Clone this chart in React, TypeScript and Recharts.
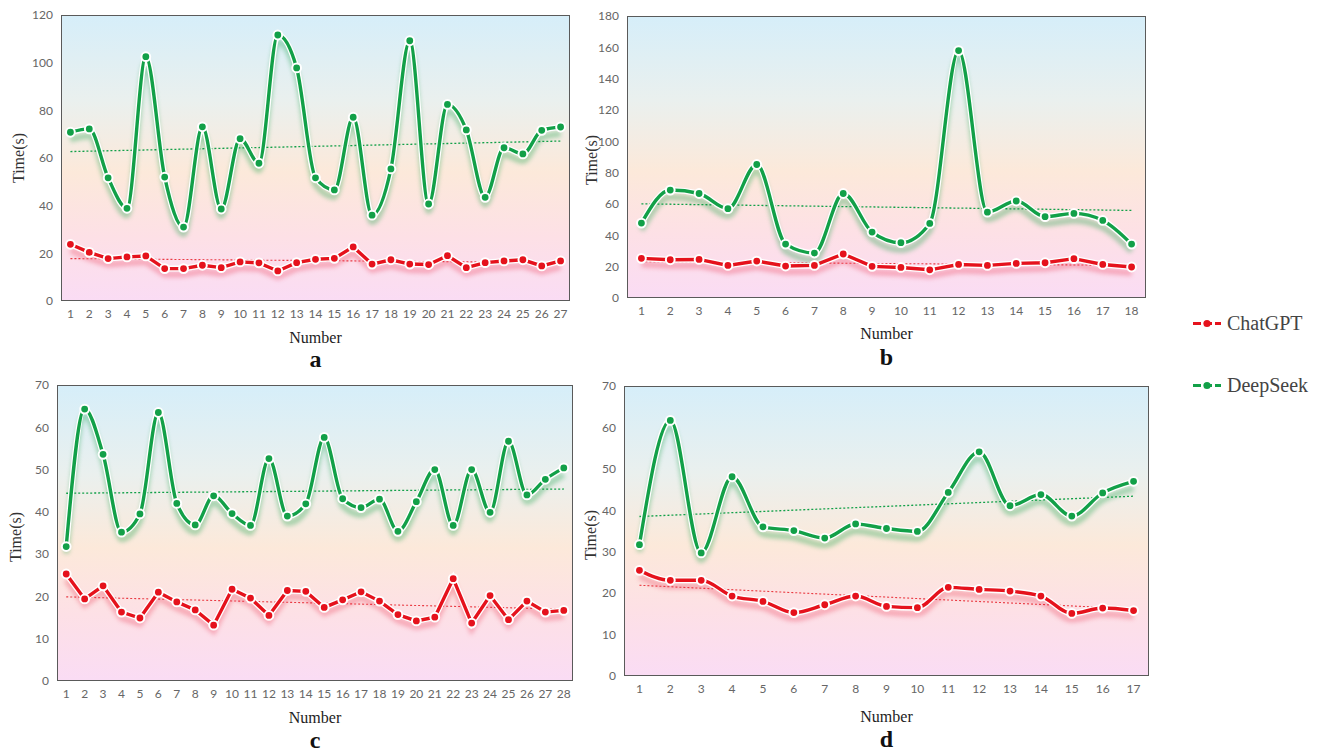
import React from 'react';
import { LineChart, Line, XAxis, YAxis } from 'recharts';

// ---------- Data ----------
const aNumbers = [1, 2, 3, 4, 5, 6, 7, 8, 9, 10, 11, 12, 13, 14, 15, 16, 17, 18, 19, 20, 21, 22, 23, 24, 25, 26, 27];
const aChatGPT = [23.8, 20.4, 17.8, 18.5, 18.9, 13.6, 13.6, 15, 14, 16.4, 16, 12.6, 16.1, 17.5, 17.9, 22.7, 15.5, 17.3, 15.5, 15.3, 19, 14, 16.1, 16.8, 17.3, 14.7, 16.8];
const aDeepSeek = [70.8, 72.2, 51.7, 38.9, 102.5, 52, 31, 73.1, 38.6, 68.1, 57.8, 111.6, 97.8, 51.7, 46.6, 77.1, 36, 55.4, 109.2, 40.7, 82.5, 71.8, 43.5, 64.3, 61.7, 71.6, 73];
const aChatTrend = [17.8, 16.1];
const aDeepTrend = [62.7, 67.1];
const aTicks = [0, 20, 40, 60, 80, 100, 120];

const bNumbers = [1, 2, 3, 4, 5, 6, 7, 8, 9, 10, 11, 12, 13, 14, 15, 16, 17, 18];
const bChatGPT = [25.3, 24.4, 24.6, 20.8, 23.6, 20.4, 20.8, 28.1, 20.2, 19.5, 18, 21.4, 20.8, 22.1, 22.5, 25.1, 21.4, 19.8];
const bDeepSeek = [47.8, 68.9, 66.7, 57, 85.2, 34.4, 28.7, 66.7, 42.1, 35.3, 47.6, 157.9, 54.8, 61.9, 51.9, 54, 49.5, 34.4];
const bChatTrend = [23.2, 20.8];
const bDeepTrend = [60.1, 55.9];
const bTicks = [0, 20, 40, 60, 80, 100, 120, 140, 160, 180];

const cNumbers = [1, 2, 3, 4, 5, 6, 7, 8, 9, 10, 11, 12, 13, 14, 15, 16, 17, 18, 19, 20, 21, 22, 23, 24, 25, 26, 27, 28];
const cChatGPT = [25.3, 19.4, 22.5, 16.3, 14.9, 21, 18.7, 16.8, 13.2, 21.7, 19.6, 15.5, 21.4, 21.2, 17.4, 19.2, 21.1, 18.9, 15.7, 14.2, 15.1, 24.2, 13.7, 20.2, 14.5, 18.9, 16.3, 16.7];
const cDeepSeek = [31.8, 64.3, 53.6, 35.2, 39.5, 63.5, 42, 36.9, 43.8, 39.6, 36.8, 52.6, 39, 41.9, 57.6, 43.1, 41, 43, 35.4, 42.4, 50, 36.8, 50, 39.9, 56.7, 44, 47.7, 50.4];
const cChatTrend = [19.9, 17.0];
const cDeepTrend = [44.4, 45.4];
const cTicks = [0, 10, 20, 30, 40, 50, 60, 70];

const dNumbers = [1, 2, 3, 4, 5, 6, 7, 8, 9, 10, 11, 12, 13, 14, 15, 16, 17];
const dChatGPT = [25.5, 23.1, 23.1, 19.3, 18, 15.3, 17.2, 19.3, 16.8, 16.5, 21.4, 20.9, 20.5, 19.3, 15.1, 16.4, 15.8];
const dDeepSeek = [31.7, 61.7, 29.7, 48.1, 36, 35.1, 33.3, 36.7, 35.6, 34.9, 44.3, 54.1, 41.1, 43.8, 38.6, 44.2, 47];
const dChatTrend = [21.9, 16.2];
const dDeepTrend = [38.5, 43.4];
const dTicks = [0, 10, 20, 30, 40, 50, 60, 70];

const seriesNames = ['ChatGPT', 'DeepSeek'];

// ---------- Styles ----------
const GREEN = '#12a048';
const RED = '#e5121c';
const SERIF = '"Liberation Serif", "Times New Roman", serif';
const TICKFONT = 'Lato, "DejaVu Sans", sans-serif';

type PanelProps = {
  L: number; T: number; R: number; B: number;
  numbers: number[]; chat: number[]; deep: number[];
  chatTrend: number[]; deepTrend: number[];
  ticks: number[]; letter: string; chatSmooth: boolean;
  timeY: number; timeX: number; numberY: number; letterY: number;
};

function Panel(p: PanelProps) {
  const n = p.numbers.length;
  const pad = (p.R - p.L) / (2 * n);
  const data = p.numbers.map((num, i) => ({
    num,
    chat: p.chat[i],
    deep: p.deep[i],
    chatT: i === 0 ? p.chatTrend[0] : i === n - 1 ? p.chatTrend[1] : null,
    deepT: i === 0 ? p.deepTrend[0] : i === n - 1 ? p.deepTrend[1] : null,
  }));
  const ML = 45, MT = 8, MR = 6, XH = 30;
  const width = p.R - p.L + ML + MR;
  const height = p.B - p.T + MT + XH;
  const yMax = p.ticks[p.ticks.length - 1];
  const cx = (p.L + p.R) / 2;
  const chatType = p.chatSmooth ? 'monotone' : 'linear';
  const centered: React.CSSProperties = { position: 'absolute', transform: 'translate(-50%, -50%)', whiteSpace: 'nowrap' };
  return (
    <>
      <div
        style={{
          position: 'absolute', left: p.L, top: p.T, width: p.R - p.L, height: p.B - p.T,
          boxSizing: 'border-box', border: '1.5px solid #5a5a5a',
          background: 'linear-gradient(to bottom, #d6eef9 0%, #eaf0ee 30%, #fce9da 55%, #fde0e6 78%, #fadcf4 100%)',
        }}
      />
      <div style={{ position: 'absolute', left: p.L - ML, top: p.T - MT }}>
        <LineChart width={width} height={height} data={data} margin={{ top: MT, right: MR, left: 0, bottom: 0 }} style={{ overflow: 'visible' }}>
          <XAxis
            dataKey="num"
            interval={0}
            padding={{ left: pad, right: pad }}
            tickLine={false}
            axisLine={false}
            height={XH}
            tick={{ fontSize: 12, fill: '#666', fontFamily: TICKFONT }}
          />
          <YAxis
            domain={[0, yMax]}
            ticks={p.ticks}
            width={ML}
            tickLine={false}
            axisLine={false}
            interval={0}
            tick={{ fontSize: 12, fill: '#666', fontFamily: TICKFONT }}
          />
          <Line dataKey="deepT" type="linear" connectNulls stroke={GREEN} strokeWidth={1.3} strokeDasharray="2 2" dot={false} activeDot={false} isAnimationActive={false} />
          <Line dataKey="chatT" type="linear" connectNulls stroke={RED} strokeWidth={1.1} strokeDasharray="2 2" strokeOpacity={0.8} dot={false} activeDot={false} isAnimationActive={false} />
          <Line className="shadow-red" dataKey="chat" type={chatType} stroke="#ffffff" strokeWidth={6} dot={false} activeDot={false} isAnimationActive={false} />
          <Line dataKey="chat" name={seriesNames[0]} type={chatType} stroke={RED} strokeWidth={3.4} dot={{ r: 4.4, fill: RED, stroke: '#fff', strokeWidth: 2 }} activeDot={false} isAnimationActive={false} />
          <Line className="shadow-green" dataKey="deep" type="monotone" stroke="#ffffff" strokeWidth={6} dot={false} activeDot={false} isAnimationActive={false} />
          <Line dataKey="deep" name={seriesNames[1]} type="monotone" stroke={GREEN} strokeWidth={3.4} dot={{ r: 4.4, fill: GREEN, stroke: '#fff', strokeWidth: 2 }} activeDot={false} isAnimationActive={false} />
        </LineChart>
      </div>
      <div style={{ ...centered, left: p.timeX, top: p.timeY, transform: 'translate(-50%, -50%) rotate(-90deg)', fontFamily: SERIF, fontSize: 16, color: '#333' }}>Time(s)</div>
      <div style={{ ...centered, left: cx, top: p.numberY, fontFamily: SERIF, fontSize: 16, color: '#222' }}>Number</div>
      <div style={{ ...centered, left: cx, top: p.letterY, fontFamily: SERIF, fontSize: 24, fontWeight: 'bold', color: '#111' }}>{p.letter}</div>
    </>
  );
}

function LegendItem({ color, label, y }: { color: string; label: string; y: number }) {
  return (
    <div style={{ position: 'absolute', left: 1192, top: y, transform: 'translateY(-50%)', display: 'flex', alignItems: 'center', whiteSpace: 'nowrap' }}>
      <svg width={30} height={10} style={{ display: 'block' }}>
        <line x1={1} y1={5} x2={29} y2={5} stroke={color} strokeWidth={3} strokeDasharray="8 3" />
        <circle cx={15} cy={5} r={3.6} fill={color} />
      </svg>
      <span style={{ marginLeft: 5, fontFamily: SERIF, fontSize: 20, color: '#444' }}>{label}</span>
    </div>
  );
}

export default function App() {
  return (
    <div style={{ position: 'absolute', left: 0, top: 0, width: 1325, height: 756, background: '#fff', overflow: 'hidden' }}>
      <style>{`
        .shadow-green { filter: drop-shadow(0px 7px 2px rgba(20,160,70,0.35)); }
        .shadow-red { filter: drop-shadow(0px 6px 2px rgba(235,40,70,0.3)); }
      `}</style>
      <Panel L={61} T={15} R={570} B={301} numbers={aNumbers} chat={aChatGPT} deep={aDeepSeek} chatTrend={aChatTrend} deepTrend={aDeepTrend} ticks={aTicks} letter="a" chatSmooth={false} timeX={19} timeY={158} numberY={338} letterY={359} />
      <Panel L={627} T={16} R={1146} B={298} numbers={bNumbers} chat={bChatGPT} deep={bDeepSeek} chatTrend={bChatTrend} deepTrend={bDeepTrend} ticks={bTicks} letter="b" chatSmooth={false} timeX={592} timeY={160} numberY={334} letterY={357} />
      <Panel L={57} T={385} R={573} B={681} numbers={cNumbers} chat={cChatGPT} deep={cDeepSeek} chatTrend={cChatTrend} deepTrend={cDeepTrend} ticks={cTicks} letter="c" chatSmooth={false} timeX={16} timeY={537} numberY={718} letterY={740} />
      <Panel L={624} T={386} R={1149} B={676} numbers={dNumbers} chat={dChatGPT} deep={dDeepSeek} chatTrend={dChatTrend} deepTrend={dDeepTrend} ticks={dTicks} letter="d" chatSmooth={true} timeX={591} timeY={535} numberY={717} letterY={739} />
      <LegendItem color={RED} label={seriesNames[0]} y={323} />
      <LegendItem color={GREEN} label={seriesNames[1]} y={385} />
    </div>
  );
}
